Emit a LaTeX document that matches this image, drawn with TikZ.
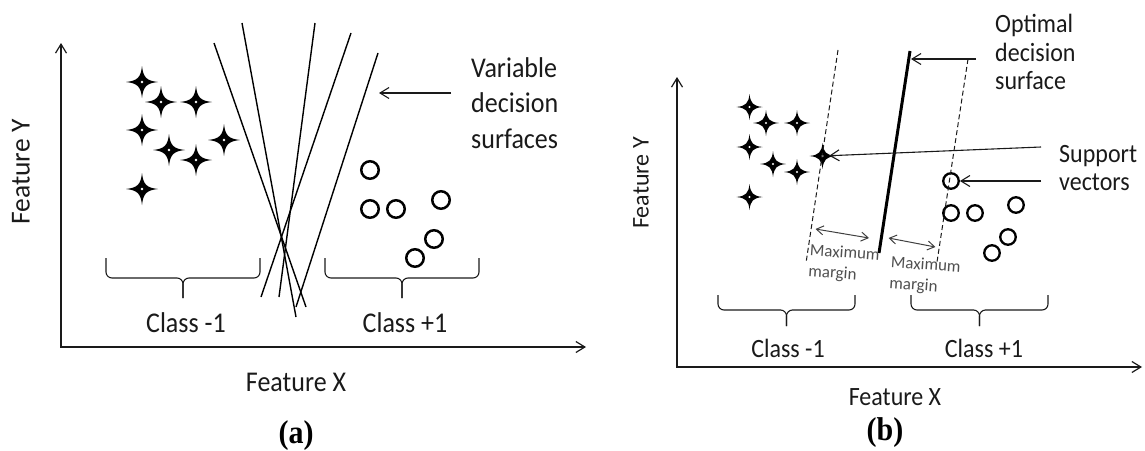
\documentclass[tikz,border=0pt]{standalone}
\usepackage{fontspec}
\setmainfont{Carlito}
\newfontfamily\capfont{Liberation Serif}
\usetikzlibrary{arrows.meta}
\definecolor{ink}{HTML}{1A1A1A}
\definecolor{mmgray}{HTML}{505050}
\tikzset{
  star4/.pic={
    \fill[black] (1,0) .. controls (0.28,0.08) and (0.08,0.28) .. (0,1)
      .. controls (-0.08,0.28) and (-0.28,0.08) .. (-1,0)
      .. controls (-0.28,-0.08) and (-0.08,-0.28) .. (0,-1)
      .. controls (0.08,-0.28) and (0.28,-0.08) .. cycle;
    \fill[white] (0.08,0) -- (0,0.08) -- (-0.08,0) -- (0,-0.08) -- cycle;
  },
  starhold/.style={shape=circle, inner sep=0pt, minimum size=13pt},
  dota/.style={shape=circle, draw=black, line width=2.5pt, minimum size=17.5pt, inner sep=0pt},
  dotb/.style={shape=circle, draw=black, line width=2.3pt, minimum size=15.5pt, inner sep=0pt},
  axisline/.style={draw=ink, line width=1.2pt, {Straight Barb[length=9pt,width=11pt]}-{Straight Barb[length=9pt,width=11pt]}},
  arr/.style={draw=ink, line width=1.1pt, -{Straight Barb[length=9pt,width=11pt]}},
  dsurf/.style={draw=black, line width=1.4pt},
  optline/.style={draw=black, line width=3pt},
  marginline/.style={draw=ink, line width=1pt, dash pattern=on 5pt off 3pt},
  mmarrow/.style={draw=mmgray!80!black, line width=1pt, {Straight Barb[length=7pt,width=9pt]}-{Straight Barb[length=7pt,width=9pt]}},
  bracepath/.style={draw=ink, line width=1.1pt, rounded corners=6pt},
  lbla/.style={text=ink, inner sep=0pt, font=\fontsize{26}{32}\selectfont, yscale=1.1, transform shape},
  lblb/.style={text=ink, inner sep=0pt, font=\fontsize{24}{26}\selectfont, yscale=1.1, transform shape},
  lblav/.style={text=ink, inner sep=0pt, font=\fontsize{27.5}{32}\selectfont, rotate=90},
  lblbv/.style={text=ink, inner sep=0pt, font=\fontsize{24}{28}\selectfont, rotate=90},
  mmtext/.style={text=mmgray, inner sep=0pt, align=left, font=\fontsize{17}{21}\selectfont, rotate=-4},
  captext/.style={text=black, inner sep=0pt, font=\capfont\bfseries\fontsize{30}{34}\selectfont, yscale=1.1, transform shape},
}
\newcommand\clbrace[5]{%
  \draw[bracepath] (#1,#3) -- (#1,#4) -- ({(#1+#2)/2},#4) -- ({(#1+#2)/2},#5);
  \draw[bracepath] (#2,#3) -- (#2,#4) -- ({(#1+#2)/2},#4) -- ({(#1+#2)/2},#5);}
\begin{document}
\begin{tikzpicture}[x=1pt,y=-1pt]
\useasboundingbox (0,0) rectangle (1145,450);
% ================= panel (a) =================
\coordinate (oa) at (61,347);
\coordinate (ya) at (61,43);
\coordinate (xa) at (586,347);
\draw[axisline] (ya) -- (oa) -- (xa);
\node[lblav] (fya) at (21,172) {Feature Y};
\node[lbla] (fxa) at (296,382) {Feature X};
% stars class -1
\foreach \n/\x/\y in {1/142/82,2/161/102,3/196/102,4/142/130,5/169/150,6/196/160,7/224/140,8/142/189}{
  \node[starhold] (sa\n) at (\x,\y) {};
  \pic[scale=16] at (sa\n) {star4};
}
% circles class +1
\foreach \n/\x/\y in {1/370/170,2/370/209,3/396/209,4/441/200,5/434/239,6/415/258}{
  \node[dota] (ca\n) at (\x,\y) {};
}
% decision surfaces
\coordinate (l1t) at (214,43);  \coordinate (l1b) at (306,307);
\coordinate (l2t) at (242,23);  \coordinate (l2b) at (296,317);
\coordinate (l3t) at (315,23);  \coordinate (l3b) at (279,297);
\coordinate (l4t) at (351,33);  \coordinate (l4b) at (261,297);
\coordinate (l5t) at (378,53);  \coordinate (l5b) at (296,307);
\foreach \i in {1,...,5}{ \draw[dsurf] (l\i t) -- (l\i b); }
\node[lbla, anchor=west, align=left] (vds) at (471,103) {Variable\\decision\\surfaces};
\coordinate (vdsa) at (451,93);
\coordinate (vdsb) at (379,93);
\draw[arr] (vdsa) -- (vdsb);
% braces
\clbrace{106}{260}{258}{278}{298}
\clbrace{325}{479}{258}{278}{298}
\node[lbla] (cma) at (186,323) {Class -1};
\node[lbla] (cpa) at (405,323) {Class +1};
\node[captext] (capa) at (296,436) {(a)};
% ================= panel (b) =================
\coordinate (ob) at (677,367);
\coordinate (yb) at (677,77);
\coordinate (xb) at (1142,367);
\draw[axisline] (yb) -- (ob) -- (xb);
\node[lblbv] (fyb) at (641,183) {Feature Y};
\node[lblb] (fxb) at (895,397) {Feature X};
\foreach \n/\x/\y in {1/749.5/107,2/766/123,3/797/123,4/749.5/147,5/773/164,6/797/172,7/822.5/156,8/749.5/197}{
  \node[starhold] (sb\n) at (\x,\y) {};
  \pic[scale=13] at (sb\n) {star4};
}
\foreach \n/\x/\y in {1/951/181,2/951/213,3/975/213,4/1016/205,5/1008/237,6/992/253}{
  \node[dotb] (cb\n) at (\x,\y) {};
}
% margins and optimal surface
\coordinate (mlt) at (838,50);  \coordinate (mlb) at (806,263);
\coordinate (mrt) at (968,59);  \coordinate (mrb) at (937,262);
\coordinate (opt) at (910,51);  \coordinate (opb) at (879,253);
\draw[marginline] (mlt) -- (mlb);
\draw[marginline] (mrt) -- (mrb);
\draw[optline] (opt) -- (opb);
\node[lblb, anchor=west, align=left] (ods) at (995,52) {Optimal\\decision\\surface};
\coordinate (odsa) at (976,59);
\coordinate (odsb) at (911,59);
\draw[arr] (odsa) -- (odsb);
\node[lblb, anchor=west, align=left] (svt) at (1059,168) {Support\\vectors};
\coordinate (sva) at (1041,147);
\coordinate (svb) at (1041,181);
\draw[arr] (sva) -- (sb7);
\draw[arr] (svb) -- (cb1);
% maximum margin arrows
\coordinate (mm1a) at (815.5,229); \coordinate (mm1b) at (869,238);
\coordinate (mm2a) at (888.5,238); \coordinate (mm2b) at (935.4,247);
\draw[mmarrow] (mm1a) -- (mm1b);
\draw[mmarrow] (mm2a) -- (mm2b);
\node[mmtext] (mmt1) at (844,264) {Maximum\\margin};
\node[mmtext] (mmt2) at (925,276) {Maximum\\margin};
% braces
\clbrace{718}{855}{295}{310}{326}
\clbrace{911}{1048}{295}{310}{326}
\node[lblb] (cmb) at (788,348) {Class -1};
\node[lblb] (cpb) at (984,348) {Class +1};
\node[captext] (capb) at (885,433) {(b)};
\end{tikzpicture}
\end{document}
